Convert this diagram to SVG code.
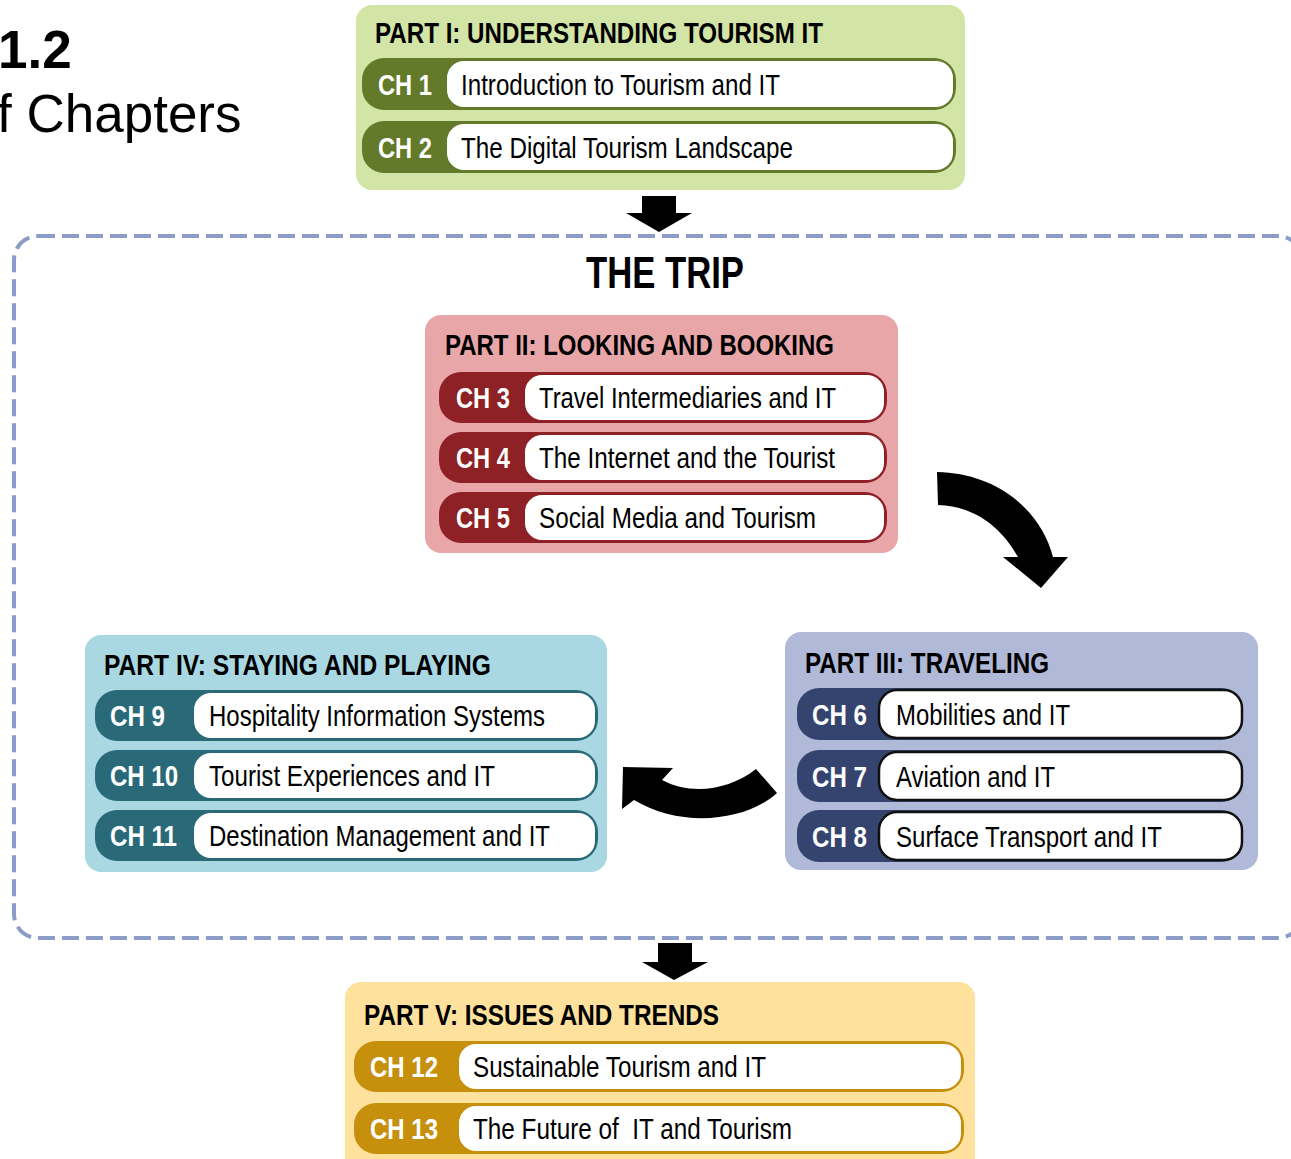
<svg xmlns="http://www.w3.org/2000/svg" width="1291" height="1159" viewBox="0 0 1291 1159">
<style>
text{font-family:"Liberation Sans Narrow","Liberation Sans",Arial,sans-serif}
.ttl{font-size:29px;font-weight:bold;fill:#000}
.ch{font-size:29px;font-weight:bold;fill:#fff}
.lbl{font-size:29px;fill:#000}
.p1b{fill:#d3e4a7}.p1d{fill:#627a29}.p1w{fill:#fff;stroke:#627a29;stroke-width:2}
.p2b{fill:#e9a6a8}.p2d{fill:#8e2126}.p2w{fill:#fff;stroke:#8e2126;stroke-width:2}
.p3b{fill:#b0bad8}.p3d{fill:#34446e}.p3w{fill:#fff;stroke:#111;stroke-width:2.5}
.p4b{fill:#a9d8e3}.p4d{fill:#2a6a78}.p4w{fill:#fff;stroke:#2a6a78;stroke-width:2}
.p5b{fill:#fde19c}.p5d{fill:#c68f0c}.p5w{fill:#fff;stroke:#c68f0c;stroke-width:2}
.arr{fill:#000}
</style>
<g id="figure-title">
<text x="-2" y="68" style="font-family:'Liberation Sans',Arial,sans-serif;font-size:53px;font-weight:bold">1.2</text>
<text x="-3" y="132" style="font-family:'Liberation Sans',Arial,sans-serif;font-size:53px">f Chapters</text>
</g>
<g id="the-trip">
<rect x="14" y="236" width="1288" height="702" rx="24" fill="none" stroke="#8b9cc8" stroke-width="4" stroke-dasharray="17 7"/>
<text x="586" y="288" font-size="44" font-weight="bold" textLength="158" lengthAdjust="spacingAndGlyphs">THE TRIP</text>
</g>
<g id="part1">
<rect class="p1b" x="356" y="5" width="609" height="185" rx="16"/>
<text class="ttl" x="375" y="43" textLength="448" lengthAdjust="spacingAndGlyphs">PART I: UNDERSTANDING TOURISM IT</text>
<rect class="p1d" x="362" y="58" width="594" height="52" rx="22"/>
<rect class="p1w" x="446" y="60" width="508" height="48" rx="18"/>
<text class="ch" x="378" y="95" textLength="54" lengthAdjust="spacingAndGlyphs">CH 1</text>
<text class="lbl" x="461" y="95" textLength="319" lengthAdjust="spacingAndGlyphs">Introduction to Tourism and IT</text>
<rect class="p1d" x="362" y="121" width="594" height="52" rx="22"/>
<rect class="p1w" x="446" y="123" width="508" height="48" rx="18"/>
<text class="ch" x="378" y="158" textLength="54" lengthAdjust="spacingAndGlyphs">CH 2</text>
<text class="lbl" x="461" y="158" textLength="332" lengthAdjust="spacingAndGlyphs">The Digital Tourism Landscape</text>
</g>
<g id="part2">
<rect class="p2b" x="425" y="315" width="473" height="238" rx="16"/>
<text class="ttl" x="445" y="355" textLength="389" lengthAdjust="spacingAndGlyphs">PART II: LOOKING AND BOOKING</text>
<rect class="p2d" x="439" y="372" width="448" height="51" rx="22"/>
<rect class="p2w" x="524" y="374" width="361" height="47" rx="18"/>
<text class="ch" x="456" y="408" textLength="54" lengthAdjust="spacingAndGlyphs">CH 3</text>
<text class="lbl" x="539" y="408" textLength="297" lengthAdjust="spacingAndGlyphs">Travel Intermediaries and IT</text>
<rect class="p2d" x="439" y="432" width="448" height="51" rx="22"/>
<rect class="p2w" x="524" y="434" width="361" height="47" rx="18"/>
<text class="ch" x="456" y="468" textLength="54" lengthAdjust="spacingAndGlyphs">CH 4</text>
<text class="lbl" x="539" y="468" textLength="296" lengthAdjust="spacingAndGlyphs">The Internet and the Tourist</text>
<rect class="p2d" x="439" y="492" width="448" height="51" rx="22"/>
<rect class="p2w" x="524" y="494" width="361" height="47" rx="18"/>
<text class="ch" x="456" y="528" textLength="54" lengthAdjust="spacingAndGlyphs">CH 5</text>
<text class="lbl" x="539" y="528" textLength="277" lengthAdjust="spacingAndGlyphs">Social Media and Tourism</text>
</g>
<g id="part3">
<rect class="p3b" x="785" y="632" width="473" height="238" rx="16"/>
<text class="ttl" x="805" y="673" textLength="244" lengthAdjust="spacingAndGlyphs">PART III: TRAVELING</text>
<rect class="p3d" x="797" y="688" width="446" height="52" rx="22"/>
<rect class="p3w" x="879" y="690" width="363" height="48" rx="18"/>
<text class="ch" x="812" y="725" textLength="55" lengthAdjust="spacingAndGlyphs">CH 6</text>
<text class="lbl" x="896" y="725" textLength="174" lengthAdjust="spacingAndGlyphs">Mobilities and IT</text>
<rect class="p3d" x="797" y="750" width="446" height="52" rx="22"/>
<rect class="p3w" x="879" y="752" width="363" height="48" rx="18"/>
<text class="ch" x="812" y="787" textLength="55" lengthAdjust="spacingAndGlyphs">CH 7</text>
<text class="lbl" x="896" y="787" textLength="159" lengthAdjust="spacingAndGlyphs">Aviation and IT</text>
<rect class="p3d" x="797" y="810" width="446" height="52" rx="22"/>
<rect class="p3w" x="879" y="812" width="363" height="48" rx="18"/>
<text class="ch" x="812" y="847" textLength="55" lengthAdjust="spacingAndGlyphs">CH 8</text>
<text class="lbl" x="896" y="847" textLength="266" lengthAdjust="spacingAndGlyphs">Surface Transport and IT</text>
</g>
<g id="part4">
<rect class="p4b" x="85" y="635" width="522" height="237" rx="16"/>
<text class="ttl" x="104" y="675" textLength="387" lengthAdjust="spacingAndGlyphs">PART IV: STAYING AND PLAYING</text>
<rect class="p4d" x="95" y="690" width="503" height="51" rx="22"/>
<rect class="p4w" x="193" y="692" width="403" height="47" rx="18"/>
<text class="ch" x="110" y="726" textLength="55" lengthAdjust="spacingAndGlyphs">CH 9</text>
<text class="lbl" x="209" y="726" textLength="336" lengthAdjust="spacingAndGlyphs">Hospitality Information Systems</text>
<rect class="p4d" x="95" y="750" width="503" height="51" rx="22"/>
<rect class="p4w" x="193" y="752" width="403" height="47" rx="18"/>
<text class="ch" x="110" y="786" textLength="68" lengthAdjust="spacingAndGlyphs">CH 10</text>
<text class="lbl" x="209" y="786" textLength="286" lengthAdjust="spacingAndGlyphs">Tourist Experiences and IT</text>
<rect class="p4d" x="95" y="810" width="503" height="51" rx="22"/>
<rect class="p4w" x="193" y="812" width="403" height="47" rx="18"/>
<text class="ch" x="110" y="846" textLength="67" lengthAdjust="spacingAndGlyphs">CH 11</text>
<text class="lbl" x="209" y="846" textLength="341" lengthAdjust="spacingAndGlyphs">Destination Management and IT</text>
</g>
<g id="part5">
<rect class="p5b" x="345" y="982" width="630" height="200" rx="16"/>
<text class="ttl" x="364" y="1025" textLength="355" lengthAdjust="spacingAndGlyphs">PART V: ISSUES AND TRENDS</text>
<rect class="p5d" x="354" y="1041" width="610" height="51" rx="22"/>
<rect class="p5w" x="458" y="1043" width="504" height="47" rx="18"/>
<text class="ch" x="370" y="1077" textLength="68" lengthAdjust="spacingAndGlyphs">CH 12</text>
<text class="lbl" x="473" y="1077" textLength="293" lengthAdjust="spacingAndGlyphs">Sustainable Tourism and IT</text>
<rect class="p5d" x="354" y="1103" width="610" height="51" rx="22"/>
<rect class="p5w" x="458" y="1105" width="504" height="47" rx="18"/>
<text class="ch" x="370" y="1139" textLength="68" lengthAdjust="spacingAndGlyphs">CH 13</text>
<text class="lbl" x="473" y="1139" textLength="319" lengthAdjust="spacingAndGlyphs" xml:space="preserve">The Future of  IT and Tourism</text>
</g>
<g id="connectors">
<path class="arr" d="M642,196 L676,196 L676,213 L692,213 L659,232 L626,213 L642,213 Z"/>
<path class="arr" d="M658,943 L692,943 L692,962 L708,962 L674,980 L642,962 L658,962 Z"/>
<path class="arr" d="M937,472 C995,473 1040,508 1053,557 L1068,557 L1041,588 L1003,557 L1018,557 C1002,528 975,506 938,505 Z"/>
<path class="arr" d="M756,769 L777,793 C745,822 680,828 634,800 L622,809 L623,767 L673,768 L662,780 C690,795 728,791 756,769 Z"/>
</g>
</svg>
